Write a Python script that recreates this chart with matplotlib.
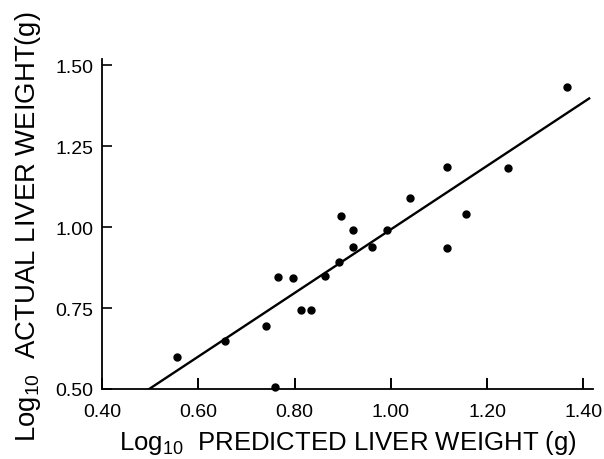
import matplotlib
matplotlib.use("Agg")
import matplotlib.pyplot as plt

# log10 predicted vs actual liver weight (g)
predicted = [0.556, 0.656, 0.741, 0.760, 0.766, 0.796, 0.813, 0.834, 0.863, 0.893, 0.896,
             0.921, 0.921, 0.960, 0.993, 1.039, 1.116, 1.117, 1.157, 1.244, 1.365]
actual = [0.598, 0.647, 0.696, 0.505, 0.845, 0.842, 0.743, 0.743, 0.848, 0.891, 1.036,
          0.992, 0.939, 0.939, 0.990, 1.091, 1.186, 0.935, 1.041, 1.183, 1.432]

# regression line end points
line_x = [0.496, 1.412]
line_y = [0.498, 1.398]

x_ticks = [0.40, 0.60, 0.80, 1.00, 1.20, 1.40]
y_ticks = [0.50, 0.75, 1.00, 1.25, 1.50]

plt.rcParams['font.family'] = ['Liberation Sans', 'DejaVu Sans']
plt.rcParams['mathtext.fontset'] = 'custom'
plt.rcParams['mathtext.rm'] = 'Liberation Sans'
plt.rcParams['mathtext.it'] = 'Liberation Sans'

fig = plt.figure(figsize=(6.04, 4.6), dpi=100)
ax = fig.add_axes([0.1689, 0.1522, 0.8129, 0.7174])

ax.plot(line_x, line_y, color='black', lw=1.7)
ax.plot(predicted, actual, 'o', color='black', ms=5, clip_on=False)

ax.set_xlim(0.40, 1.42)
ax.set_ylim(0.50, 1.52)
ax.set_xticks(x_ticks)
ax.set_yticks(y_ticks)
ax.set_xticklabels([f"{v:.2f}" for v in x_ticks])
ax.set_yticklabels([f"{v:.2f}" for v in y_ticks])

for s in ['top', 'right']:
    ax.spines[s].set_visible(False)
for s in ['left', 'bottom']:
    ax.spines[s].set_linewidth(1.3)

ax.tick_params(axis='x', direction='in', length=8, width=1.4, pad=10, labelsize=14)
ax.tick_params(axis='y', direction='in', length=7, width=1.2, pad=6, labelsize=14)

ax.set_xlabel(r"Log$_{\mathregular{10}}$  PREDICTED LIVER WEIGHT (g)", fontsize=18.5)
ax.xaxis.label.set_va('baseline')
ax.xaxis.set_label_coords(0.5, -0.182)

ax.set_ylabel(r"Log$_{\mathregular{10}}$  ACTUAL LIVER WEIGHT(g)", fontsize=19.8)
ax.yaxis.label.set_va('baseline')
ax.yaxis.set_label_coords(-0.1365, 0.495)

fig.savefig("out.png", dpi=100)
